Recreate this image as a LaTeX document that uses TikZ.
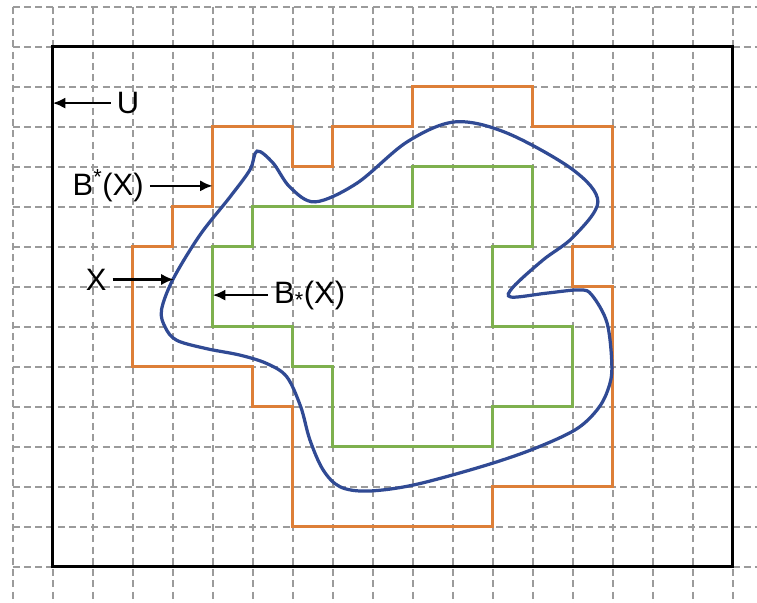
\documentclass[tikz,border=0pt]{standalone}
\usepackage{fontspec}
\setmainfont{Liberation Sans}
\usetikzlibrary{arrows.meta}
\definecolor{upperorange}{RGB}{221,127,56}
\definecolor{lowergreen}{RGB}{126,176,78}
\definecolor{setblue}{RGB}{48,74,148}
\definecolor{gridgray}{RGB}{155,155,155}

\tikzset{
  gridline/.style={gridgray, line width=1.3pt, dash pattern=on 5pt off 3pt},
  approx/.style={line width=2.3pt, line join=miter},
  pointer/.style={-{Latex[length=9pt,width=8pt]}, line width=1.9pt},
  setlabel/.style={font=\fontsize{22}{26}\selectfont, inner sep=0.15cm},
}

\begin{document}
\begin{tikzpicture}
    \useasboundingbox (-0.3175,-0.9075) rectangle (18.6075,14.1675);

    % Grid
    \foreach \y in {0,...,14}
        \draw[gridline] (0,\y) -- (18.61,\y);
    \foreach \x in {0,...,18}
        \draw[gridline] (\x,14) -- (\x,-0.91);

    % Universe U
    \draw[line width=2.3pt] (1,0) rectangle (18,13);

    % Upper approximation
    \draw[upperorange, approx] (5,11) -- (7,11) -- (7,10) -- (8,10) -- (8,11)
        -- (10,11) -- (10,12) -- (13,12) -- (13,11) -- (15,11) -- (15,8)
        -- (14,8) -- (14,7) -- (15,7) -- (15,2) -- (12,2) -- (12,1) -- (7,1)
        -- (7,4) -- (6,4) -- (6,5) -- (3,5) -- (3,8) -- (4,8) -- (4,9)
        -- (5,9) -- cycle;

    % Lower approximation
    \draw[lowergreen, approx] (6,9) -- (10,9) -- (10,10) -- (13,10) -- (13,8)
        -- (12,8) -- (12,6) -- (14,6) -- (14,4) -- (12,4) -- (12,3) -- (8,3)
        -- (8,5) -- (7,5) -- (7,6) -- (5,6) -- (5,8) -- (6,8) -- cycle;

    % The set X
    \draw[setblue, line width=2.3pt] plot[smooth cycle, tension=0.55] coordinates {
        (6.11,10.39) (6.51,10.09) (6.93,9.49) (7.56,9.12) (8.61,9.59)
        (9.86,10.62) (11.06,11.12) (12.36,10.84) (14.01,9.92) (14.63,9.12)
        (14.01,8.24) (13.26,7.67) (12.51,6.99) (12.46,6.74) (13.36,6.84)
        (14.18,6.92) (14.48,6.79) (14.86,6.09) (14.98,4.99) (14.88,4.42)
        (14.61,3.92) (14.06,3.42) (12.96,2.92) (11.68,2.49) (10.01,2.04)
        (8.86,1.89) (8.18,2.0) (7.76,2.42) (7.43,3.17) (7.2,4.0)
        (6.85,4.75) (6.35,5.08) (5.68,5.29) (4.85,5.45) (4.10,5.66)
        (3.81,5.99) (3.72,6.42) (4.01,7.19) (4.68,8.29) (5.43,9.24)
        (5.93,9.92)};

    % Labels and pointers
    \node[setlabel, anchor=west] (U) at (2.45,11.59) {U};
    \coordinate (Utip) at (1,11.59);
    \draw[pointer] (U.west) -- (Utip);

    \node[setlabel, anchor=east] (Bupper) at (3.43,9.52) {B\textsuperscript{*}(X)};
    \coordinate (Buppertip) at (5,9.52);
    \draw[pointer] (Bupper.east) -- (Buppertip);

    \node[setlabel, anchor=east] (X) at (2.50,7.18) {X};
    \coordinate (Xtip) at (4.03,7.18);
    \draw[pointer] (X.east) -- (Xtip);

    \node[setlabel, anchor=west] (Blower) at (6.38,6.79) {B\textsubscript{*}(X)};
    \coordinate (Blowertip) at (5,6.79);
    \draw[pointer] (Blower.west) -- (Blowertip);
\end{tikzpicture}
\end{document}
